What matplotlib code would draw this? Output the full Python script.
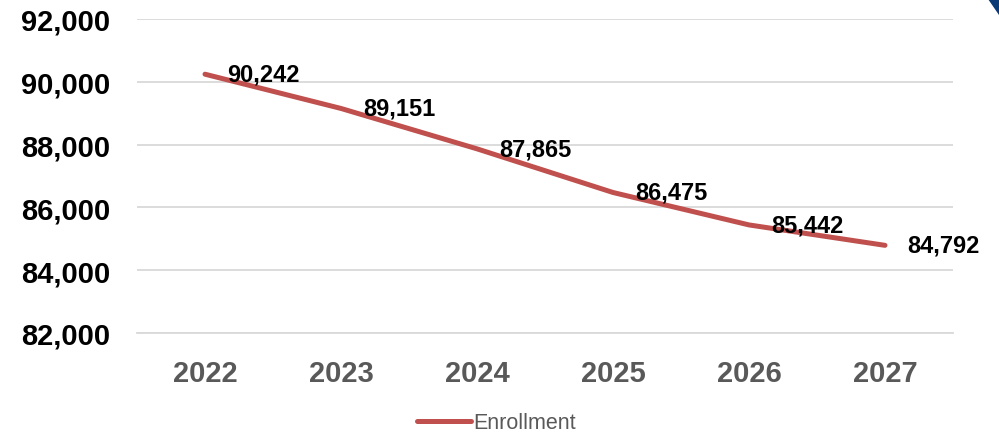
import matplotlib
matplotlib.use("Agg")
import matplotlib.pyplot as plt
from matplotlib.patches import Polygon
from matplotlib.ticker import FuncFormatter

years = ["2022", "2023", "2024", "2025", "2026", "2027"]
enrollment = [90242, 89151, 87865, 86475, 85442, 84792]
y_ticks = [82000, 84000, 86000, 88000, 90000, 92000]

plt.rcParams['font.family'] = ['Liberation Sans', 'DejaVu Sans']

W, H = 999, 435
fig = plt.figure(figsize=(W / 100, H / 100), dpi=100)
ax = fig.add_axes([137 / W, (H - 334) / H, (953 - 137) / W, (334 - 20) / H])

x = list(range(len(years)))
line, = ax.plot(x, enrollment, color='#C0504D', lw=3.6, solid_capstyle='round',
                solid_joinstyle='round', label='Enrollment', zorder=3)

for xi, v in zip(x, enrollment):
    ax.annotate(f"{v:,}", (xi, v), xytext=(16, 0), textcoords='offset points',
                ha='left', va='center', fontsize=17, fontweight='bold', color='black', zorder=4)

ax.set_xlim(-0.5, len(years) - 0.5)
ax.set_ylim(82000, 92000)
ax.set_yticks(y_ticks)
ax.yaxis.set_major_formatter(FuncFormatter(lambda v, p: f"{int(v):,}"))
ax.set_xticks(x)
ax.set_xticklabels(years)
ax.grid(axis='y', color='#D9D9D9', lw=1.3)
ax.set_axisbelow(True)
for s in ['top', 'right', 'left']:
    ax.spines[s].set_visible(False)
ax.spines['bottom'].set_color('#D9D9D9')
ax.spines['bottom'].set_linewidth(1.3)
ax.tick_params(axis='both', length=0)
ax.tick_params(axis='y', pad=19.5, labelsize=21)
ax.tick_params(axis='x', pad=18.5, labelsize=21, labelcolor='#595959')
for t in ax.get_yticklabels():
    t.set_fontweight('bold')
    t.set_color('black')
for t in ax.get_xticklabels():
    t.set_fontweight('bold')

fig.legend(handles=[line], labels=['Enrollment'], loc='center', bbox_to_anchor=(0.497, 11 / H),
           frameon=False, fontsize=15.5, labelcolor='#595959', handlelength=2.5, handletextpad=0.1)

# decorative corner shape
fig.patches.append(Polygon([[988 / W, 1.0], [1.0, 1.0], [1.0, (H - 16) / H]],
                           closed=True, transform=fig.transFigure, facecolor='#0B3A75',
                           edgecolor='none'))

fig.savefig('out.png', dpi=100)
